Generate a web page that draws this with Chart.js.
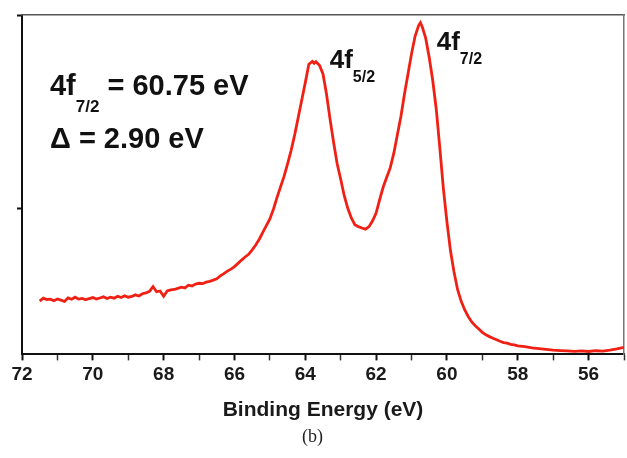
<!DOCTYPE html>
<html>
<head>
<meta charset="utf-8">
<script src="https://cdn.jsdelivr.net/npm/chart.js@4/dist/chart.umd.min.js"></script>
<style>
  html, body { margin: 0; padding: 0; background: #ffffff; }
  #wrap { width: 627px; height: 458px; position: relative; }
</style>
</head>
<body>
<div id="wrap"><canvas id="c" width="627" height="458"></canvas></div>
<script>
// Binding energy (eV)
const energies = [
  71.5,71.4,71.3,71.2,71.1,71.0,70.9,70.8,70.7,70.6,
  70.5,70.4,70.3,70.2,70.1,70.0,69.9,69.8,69.7,69.6,
  69.5,69.4,69.3,69.2,69.1,69.0,68.9,68.8,68.7,68.6,
  68.5,68.4,68.3,68.2,68.1,68.0,67.9,67.8,67.7,67.6,
  67.5,67.4,67.3,67.2,67.1,67.0,66.9,66.8,66.7,66.6,
  66.5,66.4,66.3,66.2,66.1,66.0,65.9,65.8,65.7,65.6,
  65.5,65.4,65.3,65.2,65.1,65.0,64.9,64.8,64.7,64.6,
  64.5,64.4,64.3,64.2,64.1,64.0,63.9,63.8,63.75,63.7,63.6,
  63.5,63.4,63.3,63.2,63.1,63.0,62.9,62.8,62.7,62.6,
  62.5,62.4,62.3,62.2,62.1,62.0,61.9,61.8,61.7,61.6,
  61.5,61.4,61.3,61.2,61.1,61.0,60.9,60.8,60.75,60.7,60.6,
  60.5,60.4,60.3,60.2,60.1,60.0,59.9,59.8,59.7,59.6,
  59.5,59.4,59.3,59.2,59.1,59.0,58.9,58.8,58.7,58.6,
  58.5,58.4,58.3,58.2,58.1,58.0,57.8,57.6,57.4,57.2,
  57.0,56.8,56.6,56.4,56.2,56.0,55.8,55.6,55.4,55.2,55.0
];
// Intensity (arbitrary units)
const intensity = [
  5.20,5.35,5.28,5.30,5.22,5.31,5.25,5.18,5.36,5.29,
  5.40,5.30,5.34,5.27,5.33,5.38,5.30,5.36,5.42,5.33,
  5.40,5.35,5.45,5.38,5.47,5.40,5.44,5.52,5.46,5.58,
  5.62,5.70,5.95,5.68,5.72,5.45,5.72,5.78,5.80,5.86,
  5.92,5.88,6.02,5.98,6.08,6.12,6.10,6.18,6.22,6.28,
  6.35,6.50,6.62,6.75,6.85,6.98,7.15,7.32,7.48,7.62,
  7.85,8.10,8.40,8.75,9.10,9.45,9.95,10.55,11.10,11.65,
  12.30,13.00,13.80,14.70,15.60,16.50,17.45,17.60,17.50,17.58,17.40,
  16.95,15.90,14.60,13.40,12.30,11.50,10.65,10.00,9.50,9.15,
  9.05,8.98,8.92,9.05,9.35,9.75,10.45,11.10,11.60,12.10,
  12.85,13.80,14.75,15.90,16.95,18.00,18.90,19.45,19.60,19.40,18.80,
  17.80,16.60,15.10,13.10,11.00,9.30,7.80,6.70,5.80,5.20,
  4.75,4.40,4.12,3.92,3.75,3.58,3.45,3.36,3.28,3.20,
  3.12,3.05,3.02,2.96,2.93,2.88,2.84,2.78,2.74,2.70,
  2.66,2.64,2.62,2.60,2.62,2.59,2.63,2.61,2.66,2.72,2.80
];
const xTickLabelValues = [72, 70, 68, 66, 64, 62, 60, 58, 56];
const yTickValues = [10, 20];
const xAxisTitle = 'Binding Energy (eV)';
const panelLabel = '(b)';
const infoLines = [
  { main: '4f', sub: '7/2', rest: ' = 60.75 eV' },
  { main: '\u0394 = 2.90 eV', sub: '', rest: '' }
];
const peakLabels = [
  { main: '4f', sub: '5/2' },
  { main: '4f', sub: '7/2' }
];

const points = energies.map((e, i) => ({ x: e, y: intensity[i] }));

function drawSubText(ctx, x, y, main, sub, rest, bigSize, subSize, subDrop) {
  ctx.font = 'bold ' + bigSize + 'px "Liberation Sans", Arial, sans-serif';
  ctx.fillText(main, x, y);
  let cx = x + ctx.measureText(main).width;
  if (sub) {
    ctx.font = 'bold ' + subSize + 'px "Liberation Sans", Arial, sans-serif';
    ctx.fillText(sub, cx, y + subDrop);
    cx += ctx.measureText(sub).width;
  }
  if (rest) {
    ctx.font = 'bold ' + bigSize + 'px "Liberation Sans", Arial, sans-serif';
    ctx.fillText(rest, cx, y);
  }
}

const annotations = {
  id: 'annotations',
  afterDatasetsDraw(chart) {
    const ctx = chart.ctx;
    const xs = chart.scales.x, ys = chart.scales.y;
    ctx.save();
    ctx.fillStyle = '#111';
    ctx.textBaseline = 'alphabetic';
    ctx.textAlign = 'left';
    drawSubText(ctx, xs.getPixelForValue(71.21), ys.getPixelForValue(15.85),
      infoLines[0].main, infoLines[0].sub, infoLines[0].rest, 29, 17, 17);
    drawSubText(ctx, xs.getPixelForValue(71.21), ys.getPixelForValue(13.11),
      infoLines[1].main, '', '', 29, 17, 17);
    drawSubText(ctx, xs.getPixelForValue(63.31), ys.getPixelForValue(17.25),
      peakLabels[0].main, peakLabels[0].sub, '', 26, 16, 14);
    drawSubText(ctx, xs.getPixelForValue(60.29), ys.getPixelForValue(18.19),
      peakLabels[1].main, peakLabels[1].sub, '', 26, 16, 14);
    ctx.restore();
  }
};

const whiteBg = {
  id: 'whiteBg',
  beforeDraw(chart) {
    const ctx = chart.ctx;
    ctx.save();
    ctx.fillStyle = '#ffffff';
    ctx.fillRect(0, 0, chart.width, chart.height);
    ctx.restore();
  }
};

new Chart(document.getElementById('c'), {
  type: 'line',
  data: {
    datasets: [{
      data: points,
      borderColor: 'rgb(240,32,20)',
      borderWidth: 2.8,
      pointRadius: 0,
      tension: 0,
      fill: false
    }]
  },
  options: {
    responsive: false,
    animation: false,
    layout: { padding: { top: 15, left: 0, right: 2, bottom: 0 } },
    plugins: {
      legend: { display: false },
      tooltip: { enabled: false },
      title: { display: false },
      subtitle: {
        display: true,
        position: 'bottom',
        text: panelLabel,
        color: '#222',
        font: { family: '"Liberation Serif", "Times New Roman", serif', size: 18, weight: 'normal' },
        padding: { top: 2, bottom: 10 }
      }
    },
    scales: {
      x: {
        type: 'linear',
        reverse: true,
        min: 55,
        max: 72,
        position: 'bottom',
        afterFit(s) { s.height = 70; },
        ticks: {
          stepSize: 1,
          autoSkip: false,
          maxRotation: 0,
          padding: 3,
          color: '#1a1a1a',
          font: { family: '"Liberation Sans", Arial, sans-serif', size: 19, weight: 'bold' },
          callback: (v) => xTickLabelValues.includes(v) ? String(v) : ''
        },
        grid: {
          display: true,
          drawOnChartArea: false,
          drawTicks: true,
          tickLength: 6,
          tickColor: (c) => xTickLabelValues.includes(c.tick && c.tick.value) ? '#111' : '#333',
          tickWidth: (c) => xTickLabelValues.includes(c.tick && c.tick.value) ? 2 : 1.5
        },
        border: { display: true, color: '#111', width: 2 },
        title: {
          display: true,
          text: xAxisTitle,
          color: '#1a1a1a',
          font: { family: '"Liberation Sans", Arial, sans-serif', size: 21, weight: 'bold' },
          padding: { top: 0, bottom: 2 }
        }
      },
      y: {
        type: 'linear',
        min: 2.44,
        max: 20,
        position: 'left',
        afterFit(s) { s.width = 22; },
        afterBuildTicks(s) { s.ticks = yTickValues.map(v => ({ value: v })); },
        ticks: { display: false },
        grid: {
          display: true,
          drawOnChartArea: false,
          drawTicks: true,
          tickLength: 5,
          tickColor: '#111',
          tickWidth: 2
        },
        border: { display: true, color: '#111', width: 2 }
      },
      xTop: {
        type: 'linear',
        position: 'top',
        min: 0, max: 1,
        afterFit(s) { s.height = 0; },
        ticks: { display: false },
        grid: { display: false },
        border: { display: true, color: '#555', width: 1.5 }
      },
      yRight: {
        type: 'linear',
        position: 'right',
        min: 0, max: 1,
        afterFit(s) { s.width = 0; },
        ticks: { display: false },
        grid: { display: false },
        border: { display: true, color: '#777', width: 1.5 }
      }
    }
  },
  plugins: [whiteBg, annotations]
});
</script>
</body>
</html>
